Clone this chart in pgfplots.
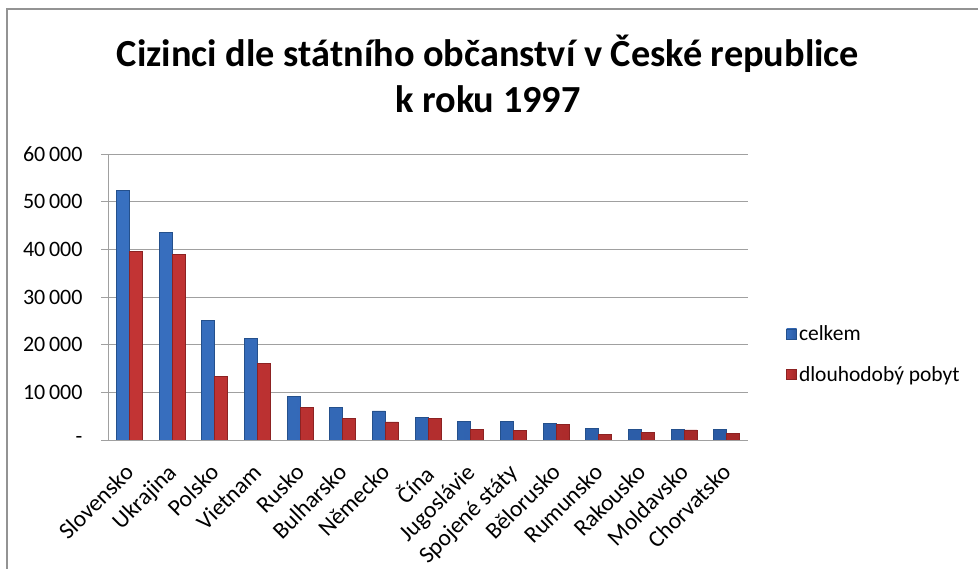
\documentclass[border=0pt]{standalone}
\usepackage{fontspec}
\setmainfont{Carlito}
\usepackage{pgfplots}
\pgfplotsset{compat=1.18}

\definecolor{blueL}{HTML}{3870C0}
\definecolor{blueM}{HTML}{4A8BDA}
\definecolor{blueR}{HTML}{2A5AA4}
\definecolor{blueE}{HTML}{24508C}
\definecolor{redL}{HTML}{C23434}
\definecolor{redM}{HTML}{DA4A48}
\definecolor{redR}{HTML}{A42828}
\definecolor{redE}{HTML}{8C2222}
\definecolor{gridgray}{HTML}{A0A0A0}

\begin{document}
\begin{tikzpicture}
\useasboundingbox (0pt,0pt) rectangle (978pt,569pt);
% frame of the chart area (cut off at right and bottom)
\draw[gray!85, line width=1.6pt] (7pt,-10pt) -- (7pt,560pt) -- (990pt,560pt);
% title
\node[font=\fontsize{38.3}{44}\selectfont\bfseries, anchor=base] at (488pt,502pt)
    {Cizinci dle státního občanství v České republice};
\node[font=\fontsize{38.3}{44}\selectfont\bfseries, anchor=base] at (488pt,456pt)
    {k roku 1997};
\begin{axis}[
    at={(108pt,129pt)}, anchor=south west,
    scale only axis,
    width=640pt, height=286pt,
    xmin=-0.5, xmax=14.5,
    ymin=0, ymax=60000,
    scaled y ticks=false,
    ybar=0pt, bar width=13pt,
    axis x line*=bottom, axis y line*=left,
    axis line style={gridgray, line width=0.8pt},
    ymajorgrids,
    grid style={gridgray, line width=0.8pt},
    ytick={0,10000,20000,30000,40000,50000,60000},
    yticklabels={-,10\,000,20\,000,30\,000,40\,000,50\,000,60\,000},
    ytick style={gridgray, line width=0.8pt},
    tick align=outside, major tick length=7pt,
    xtick={0,...,14},
    xtick style={draw=none},
    xticklabels={Slovensko,Ukrajina,Polsko,Vietnam,Rusko,Bulharsko,Německo,Čína,Jugoslávie,Spojené státy,Bělorusko,Rumunsko,Rakousko,Moldavsko,Chorvatsko},
    x tick label style={xshift=-6pt, yshift=-14pt, rotate=45, anchor=north east,
        inner sep=1pt, font=\fontsize{23.5}{26}\selectfont},
    y tick label style={xshift=-15pt, font=\fontsize{22}{24}\selectfont},
    legend style={at={(1.055,0.30)}, anchor=west, draw=none, fill=none,
        font=\fontsize{21.5}{24}\selectfont, row sep=20pt},
    legend cell align=left,
    legend image code/.code={\draw[#1] (0pt,-5pt) rectangle (10pt,5pt);},
]
\addplot[left color=blueL, middle color=blueM, right color=blueR, draw=blueE, line width=0.6pt] coordinates {
    (0,52400) (1,43600) (2,25100) (3,21300) (4,9200) (5,6800) (6,6100)
    (7,4700) (8,3900) (9,3900) (10,3400) (11,2500) (12,2200) (13,2200) (14,2200)
};
\addlegendentry{celkem}
\addplot[left color=redL, middle color=redM, right color=redR, draw=redE, line width=0.6pt] coordinates {
    (0,39600) (1,39000) (2,13400) (3,16100) (4,6800) (5,4500) (6,3800)
    (7,4600) (8,2300) (9,2000) (10,3200) (11,1100) (12,1600) (13,2100) (14,1400)
};
\addlegendentry{dlouhodobý pobyt}
\end{axis}
\end{tikzpicture}
\end{document}
